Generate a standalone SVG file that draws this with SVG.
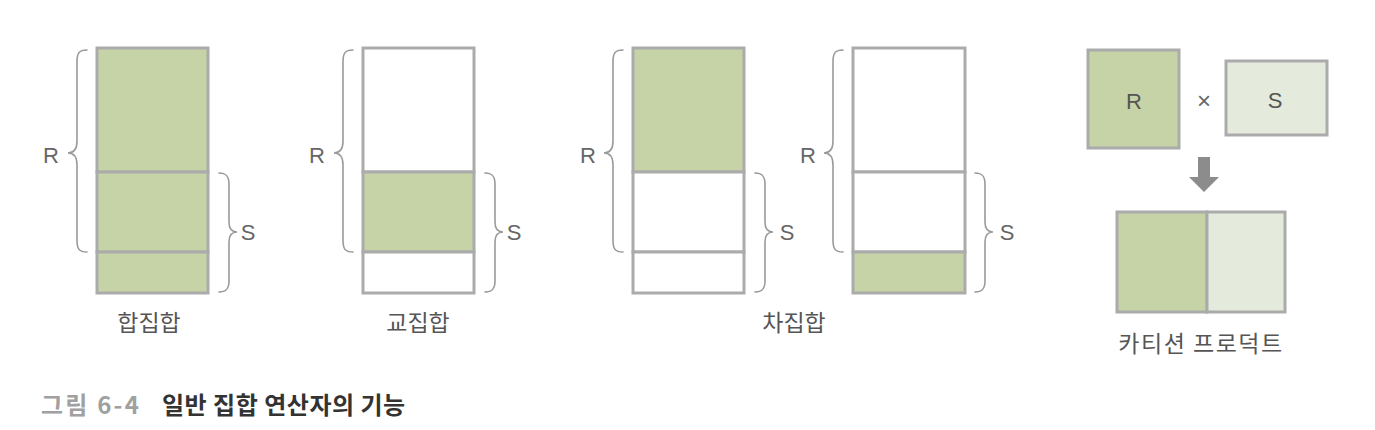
<svg xmlns="http://www.w3.org/2000/svg" width="1375" height="430" viewBox="0 0 1375 430">
<style>
.box{stroke:#ababab;stroke-width:3}
.g{fill:#c5d3a6}
.w{fill:#ffffff}
.lg{fill:#e5ebdc}
.brace{fill:none;stroke:#9a9a9a;stroke-width:1.6;stroke-linecap:round}
.rs{font-family:"Liberation Sans",Arial,sans-serif;font-size:22px;fill:#666}
.lbl{font-family:"Noto Sans CJK KR","Noto Sans",sans-serif;font-size:23px;fill:#555;text-anchor:middle}
.cap{font-family:"Noto Sans CJK KR","Noto Sans",sans-serif;font-size:24px;font-weight:bold}
</style>
<defs>
<path id="braceR" class="brace" d="M 87,50 C 79,50 77,53 77,62 L 77,141 C 77,149 74,153 68,153 C 74,153 77,157 77,165 L 77,240 C 77,249 79,252 87,252"/>
<path id="braceS" class="brace" d="M 219,173 C 226,173 229,176 229,184 L 229,222 C 229,229 232,232 237,232 C 232,232 229,235 229,242 L 229,281 C 229,289 226,292 219,292"/>
</defs>
<rect width="1375" height="430" fill="#ffffff"/>

<g id="union">
<rect class="box g" x="97" y="48" width="111" height="124"/>
<rect class="box g" x="97" y="172" width="111" height="80"/>
<rect class="box g" x="97" y="252" width="111" height="41"/>
<use href="#braceR"/>
<use href="#braceS"/>
<text class="rs" x="51" y="163" text-anchor="middle">R</text>
<text class="rs" x="248" y="240" text-anchor="middle">S</text>
<text class="lbl" x="149" y="331">합집합</text>
</g>

<g id="intersection" transform="translate(266,0)">
<rect class="box w" x="97" y="48" width="111" height="124"/>
<rect class="box g" x="97" y="172" width="111" height="80"/>
<rect class="box w" x="97" y="252" width="111" height="41"/>
<use href="#braceR"/>
<use href="#braceS"/>
<text class="rs" x="51" y="163" text-anchor="middle">R</text>
<text class="rs" x="248" y="240" text-anchor="middle">S</text>
<text class="lbl" x="152" y="331">교집합</text>
</g>

<g id="difference1" transform="translate(536,0)">
<rect class="box g" x="97" y="48" width="111" height="124"/>
<rect class="box w" x="97" y="172" width="111" height="80"/>
<rect class="box w" x="97" y="252" width="111" height="41"/>
<use href="#braceR"/>
<use href="#braceS"/>
<text class="rs" x="52" y="163" text-anchor="middle">R</text>
<text class="rs" x="251" y="240" text-anchor="middle">S</text>
</g>

<g id="difference2" transform="translate(756,0)">
<rect class="box w" x="97" y="48" width="112" height="124"/>
<rect class="box w" x="97" y="172" width="112" height="80"/>
<rect class="box g" x="97" y="252" width="112" height="41"/>
<use href="#braceR"/>
<use href="#braceS"/>
<text class="rs" x="52" y="163" text-anchor="middle">R</text>
<text class="rs" x="251" y="240" text-anchor="middle">S</text>
</g>
<text id="difference-label" class="lbl" x="794" y="331">차집합</text>

<g id="cartesian">
<rect class="box g" x="1088" y="50" width="91" height="98"/>
<text class="rs" x="1134" y="109" text-anchor="middle" style="fill:#555">R</text>
<text class="rs" x="1204" y="109" text-anchor="middle" style="font-size:24px">×</text>
<rect class="box lg" x="1226" y="61" width="101" height="74"/>
<text class="rs" x="1275" y="108" text-anchor="middle" style="fill:#555">S</text>
<rect class="box g" x="1117" y="212" width="90" height="100"/>
<rect class="box lg" x="1207" y="212" width="78" height="100"/>
<text class="lbl" x="1201" y="352" style="letter-spacing:1.5px">카티션 프로덕트</text>
</g>

<g id="connectors">
<path d="M 1198,157 L 1210,157 L 1210,177 L 1219,177 L 1204,192 L 1189,177 L 1198,177 Z" fill="#8c8c8c"/>
</g>

<g id="caption">
<text class="cap" x="41" y="414" fill="#a0a0a0" style="letter-spacing:2.2px">그림 6-4</text>
<text class="cap" x="162" y="414" fill="#333333" style="letter-spacing:0.5px">일반 집합 연산자의 기능</text>
</g>
</svg>
